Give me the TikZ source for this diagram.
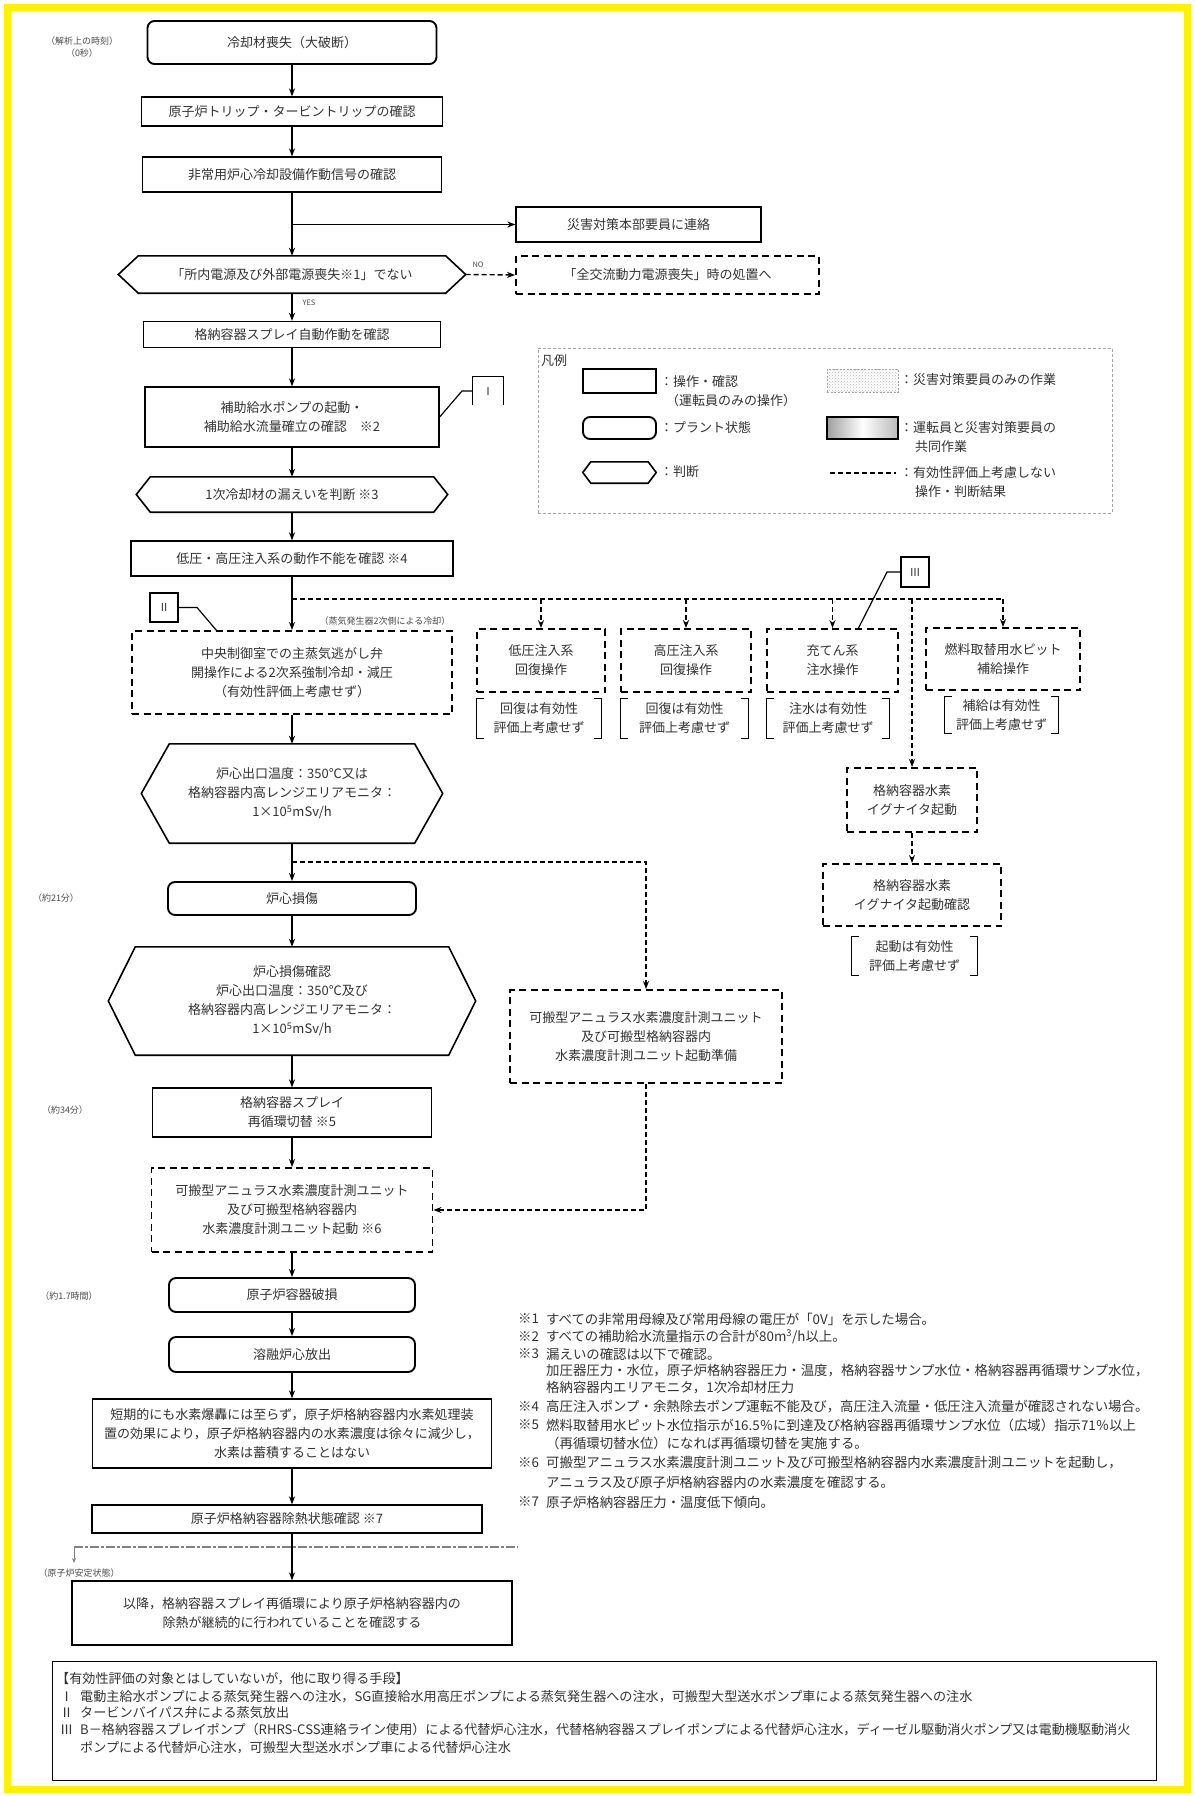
\documentclass[tikz,border=0pt]{standalone}
\usepackage{fontspec}
\setmainfont{Noto Sans CJK JP}
\usetikzlibrary{arrows.meta,patterns}
\newcommand\fsM{\fontsize{13}{19}\selectfont}
\newcommand\fsN{\fontsize{13.4}{18}\selectfont}
\newcommand\fsB{\fontsize{13.1}{17}\selectfont}
\newcommand\fsS{\fontsize{9}{11}\selectfont}
\newcommand\fsT{\fontsize{9}{12}\selectfont}
\newcommand\hexshape[3]{\draw[line width=#3] ([xshift=#2]#1.north west) -- ([xshift=-#2]#1.north east) -- (#1.east) -- ([xshift=-#2]#1.south east) -- ([xshift=#2]#1.south west) -- (#1.west) -- cycle;}
\newcommand\brkshape[1]{\draw[line width=1pt] ([xshift=7pt]#1.north west) -- (#1.north west) -- (#1.south west) -- ([xshift=7pt]#1.south west);
\draw[line width=1pt] ([xshift=-7pt]#1.north east) -- (#1.north east) -- (#1.south east) -- ([xshift=-7pt]#1.south east);}
\tikzset{
 wh/.style 2 args={minimum width=#1pt, minimum height=#2pt},
 box/.style={draw, line width=1.3pt, align=center, inner sep=0pt, font=\fsM, text=black!80},
 pbox/.style={box, rounded corners=7pt, line width=1.9pt},
 dbox/.style={box, line width=1.9pt, dash pattern=on 7pt off 4.5pt},
 hexn/.style={align=center, inner sep=0pt, font=\fsM, text=black!80},
 brk/.style={align=center, inner sep=0pt, font=\fsM, text=black!80},
 arr/.style={line width=1.3pt, -{Stealth[length=8pt,width=6pt]}},
 darr/.style={line width=1.4pt, dash pattern=on 5pt off 3pt, -{Stealth[length=8pt,width=6pt]}},
 dline/.style={line width=1.4pt, dash pattern=on 5pt off 3pt},
 lbl/.style={font=\fsT, text=black!70, align=center, inner sep=1pt},
 note/.style={font=\fsN, text=black!80, anchor=west, inner sep=0pt},
 btxt/.style={font=\fsB, text=black!80, anchor=west, inner sep=0pt},
 ltxt/.style={font=\fsM, text=black!80, anchor=west, inner sep=0pt},
 rom/.style={inner sep=0pt, font=\fontsize{11}{12}\selectfont, text=black!80},
}
\begin{document}
\begin{tikzpicture}[x=1pt,y=-1pt]
\useasboundingbox (0,0) rectangle (1194,1796);
\fill[white] (0,0) rectangle (1194,1796);
\draw[yellow, line width=7pt] (7.5,7.5) rectangle (1187,1789);

% time labels
\node[lbl] (tl0) at (82,47.5) {（解析上の時刻）\\（0秒）};
\node[lbl] (tl1) at (56,898) {（約21分）};
\node[lbl] (tl2) at (65,1110) {（約34分）};
\node[lbl] (tl3) at (69,1296) {（約1.7時間）};

% main column
\node[pbox,wh={289}{43}] (n1) at (292,42.5) {冷却材喪失（大破断）};
\node[box,wh={301}{29}] (n2) at (292,111.5) {原子炉トリップ・タービントリップの確認};
\node[box,wh={299}{35}] (n3) at (292,174.5) {非常用炉心冷却設備作動信号の確認};
\node[box,wh={245}{35}] (n4) at (638.5,224.5) {災害対策本部要員に連絡};
\node[hexn,wh={347}{37}] (h1) at (292,274.5) {「所内電源及び外部電源喪失※1」でない};
\hexshape{h1}{20pt}{1.6pt}
\node[dbox,wh={303}{38}] (n5) at (667.5,275) {「全交流動力電源喪失」時の処置へ};
\node[box,wh={297}{26}] (n6) at (292,334.5) {格納容器スプレイ自動作動を確認};
\node[box,wh={294}{60}] (n7) at (292,417) {補助給水ポンプの起動・\\補助給水流量確立の確認　※2};
\node[hexn,wh={311}{35}] (h2) at (292,494.5) {1次冷却材の漏えいを判断 ※3};
\hexshape{h2}{14pt}{1.6pt}
\node[box,wh={322}{35}] (n8) at (292,558.5) {低圧・高圧注入系の動作不能を確認 ※4};
\node[dbox,wh={320}{83}] (n9) at (292,672.5) {中央制御室での主蒸気逃がし弁\\開操作による2次系強制冷却・減圧\\（有効性評価上考慮せず）};
\node[lbl,font=\fsS] (lsg) at (385,621) {（蒸気発生器2次側による冷却）};

% right branch row
\node[dbox,wh={128}{63}] (n10) at (541,660.5) {低圧注入系\\回復操作};
\node[dbox,wh={130}{63}] (n11) at (686,660.5) {高圧注入系\\回復操作};
\node[dbox,wh={131}{63}] (n12) at (832.5,660.5) {充てん系\\注水操作};
\node[dbox,wh={154}{62}] (n13) at (1003,659) {燃料取替用水ピット\\補給操作};
\node[brk,wh={124}{39}] (b10) at (539,718.5) {回復は有効性\\評価上考慮せず};
\node[brk,wh={127}{39}] (b11) at (684.5,718.5) {回復は有効性\\評価上考慮せず};
\node[brk,wh={122}{39}] (b12) at (828,718.5) {注水は有効性\\評価上考慮せず};
\node[brk,wh={113}{36}] (b13) at (1001.5,715) {補給は有効性\\評価上考慮せず};
\brkshape{b10}\brkshape{b11}\brkshape{b12}\brkshape{b13}
\node[dbox,wh={130}{64}] (n14) at (912,800) {格納容器水素\\イグナイタ起動};
\node[dbox,wh={178}{62}] (n15) at (912,895) {格納容器水素\\イグナイタ起動確認};
\node[brk,wh={125}{38}] (b15) at (914.5,956) {起動は有効性\\評価上考慮せず};
\brkshape{b15}

% lower main column
\node[hexn,wh={301}{99}] (h3) at (292,793.5) {炉心出口温度：350℃又は\\格納容器内高レンジエリアモニタ：\\1×10\textsuperscript{5}mSv/h};
\hexshape{h3}{28pt}{1.6pt}
\node[pbox,wh={248}{33}] (n16) at (292,898.5) {炉心損傷};
\node[hexn,wh={367}{108}] (h4) at (292,1001) {炉心損傷確認\\炉心出口温度：350℃及び\\格納容器内高レンジエリアモニタ：\\1×10\textsuperscript{5}mSv/h};
\hexshape{h4}{27pt}{1.6pt}
\node[dbox,wh={272}{93}] (n17) at (646,1036.5) {可搬型アニュラス水素濃度計測ユニット\\及び可搬型格納容器内\\水素濃度計測ユニット起動準備};
\node[box,wh={279}{49}] (n18) at (292,1112.5) {格納容器スプレイ\\再循環切替 ※5};
\node[dbox,wh={281}{84}] (n19) at (292,1210) {可搬型アニュラス水素濃度計測ユニット\\及び可搬型格納容器内\\水素濃度計測ユニット起動 ※6};
\node[pbox,wh={246}{34}] (n20) at (292,1295) {原子炉容器破損};
\node[pbox,wh={246}{35}] (n21) at (292,1354.5) {溶融炉心放出};
\node[box,wh={399}{69}] (n22) at (292,1433.5) {短期的にも水素爆轟には至らず，原子炉格納容器内水素処理装\\置の効果により，原子炉格納容器内の水素濃度は徐々に減少し，\\水素は蓄積することはない};
\node[box,wh={390}{28}] (n23) at (287,1519) {原子炉格納容器除熱状態確認 ※7};
\node[box,wh={440}{64}] (n24) at (292,1613) {以降，格納容器スプレイ再循環により原子炉格納容器内の\\除熱が継続的に行われていることを確認する};

% roman markers
\node[rom,wh={30}{28}] (rI) at (488,391) {Ⅰ};
\draw[line width=1.2pt] (rI.south west) -- (rI.north west) -- (rI.north east) -- (rI.south east);
\coordinate (lI) at (462,391);
\draw[line width=1.2pt] (n7.east) -- (lI) -- (rI.west);
\node[rom,draw,line width=1.2pt,wh={28}{29}] (rII) at (164,607.5) {Ⅱ};
\coordinate (lII) at (197,607.5);
\coordinate (lII2) at (217,631);
\draw[line width=1.2pt] (rII.east) -- (lII) -- (lII2);
\node[rom,draw,line width=1.2pt,wh={28}{30}] (rIII) at (915,572) {Ⅲ};
\coordinate (lIII1) at (858,629);
\coordinate (lIII2) at (887,572);
\draw[line width=1.2pt] (lIII1) -- (lIII2) -- (rIII.west);

% connectors
\draw[arr] (n1) -- (n2);
\draw[arr] (n2) -- (n3);
\draw[arr] (n3) -- (h1);
\coordinate (b1) at (292,224.5);
\draw[arr] (b1) -- (n4.west);
\draw[darr] (h1.east) -- (n5.west);
\node[lbl,font=\fontsize{7.5}{8}\selectfont] (lno) at (478,265) {NO};
\draw[arr] (h1) -- (n6);
\node[lbl,font=\fontsize{7.5}{8}\selectfont] (lyes) at (309,303) {YES};
\draw[arr] (n6) -- (n7);
\draw[arr] (n7) -- (h2);
\draw[arr] (h2) -- (n8);
\draw[arr] (n8) -- (n9);
\coordinate (j1) at (292,599);
\draw[dline] (j1) -- (n13.north |- j1);
\draw[darr] (n10.north |- j1) -- (n10.north);
\draw[darr] (n11.north |- j1) -- (n11.north);
\draw[darr] (n12.north |- j1) -- (n12.north);
\draw[darr] (n13.north |- j1) -- (n13.north);
\draw[darr] (n14.north |- j1) -- (n14.north);
\draw[darr] (n14) -- (n15);
\draw[arr] (n9) -- (h3);
\draw[arr] (h3) -- (n16);
\coordinate (j2) at (292,862);
\draw[darr] (j2) -| (n17.north);
\draw[arr] (n16) -- (h4);
\draw[arr] (h4) -- (n18);
\draw[arr] (n18) -- (n19);
\draw[darr] (n17.south) |- (n19.east);
\draw[arr] (n19) -- (n20);
\draw[arr] (n20) -- (n21);
\draw[arr] (n21) -- (n22);
\draw[arr] (n22.south) -- (n22.south |- n23.north);
\draw[arr] (n22.south |- n23.south) -- (n24.north);

% stable state line
\coordinate (s1) at (74,1547);
\coordinate (s2) at (518,1547);
\coordinate (s3) at (74,1563);
\draw[gray, line width=1.2pt, dash pattern=on 9pt off 2pt on 3pt off 2pt] (s1) -- (s2);
\draw[gray, line width=0.8pt, -{Stealth[length=5pt,width=4pt]}] (s1) -- (s3);
\node[lbl] (tl4) at (79,1573) {（原子炉安定状態）};

% legend
\node[draw=gray!70, line width=0.8pt, dash pattern=on 3pt off 2pt, wh={574}{165}] (lg) at (825,430.5) {};
\node[ltxt] (lgt) at (541,361) {凡例};
\node[box, line width=1.2pt, wh={73}{24}] (lg1) at (619.5,381) {};
\node[ltxt] (lg1a) at (660,382) {：操作・確認};
\node[ltxt] (lg1b) at (666,401) {（運転員のみの操作）};
\node[pbox, wh={73}{22}] (lg2) at (619.5,428) {};
\node[ltxt] (lg2a) at (660,428) {：プラント状態};
\node[hexn, wh={73}{21}] (lg3) at (619.5,472.5) {};
\hexshape{lg3}{8pt}{1.6pt}
\node[ltxt] (lg3a) at (660,472) {：判断};
\node[draw=gray!70, line width=0.8pt, dash pattern=on 2pt off 1.5pt, pattern=crosshatch dots, pattern color=gray!55, wh={71}{23}] (lg4) at (862.5,380.5) {};
\node[ltxt] (lg4a) at (900,380) {：災害対策要員のみの作業};
\node[draw, line width=1.2pt, left color=gray!75, right color=gray!55, middle color=white, wh={71}{22}] (lg5) at (862.5,428) {};
\node[ltxt] (lg5a) at (900,428) {：運転員と災害対策要員の};
\node[ltxt] (lg5b) at (915,447) {共同作業};
\coordinate (lg6s) at (830,473);
\coordinate (lg6e) at (896,473);
\draw[line width=1.8pt, dash pattern=on 5pt off 3pt] (lg6s) -- (lg6e);
\node[ltxt] (lg6a) at (900,473) {：有効性評価上考慮しない};
\node[ltxt] (lg6b) at (915,492) {操作・判断結果};

% notes
\node[note] (m1) at (518,1319) {※1};
\node[note] (t1) at (546,1319) {すべての非常用母線及び常用母線の電圧が「0V」を示した場合。};
\node[note] (m2) at (518,1337) {※2};
\node[note] (t2) at (546,1337) {すべての補助給水流量指示の合計が80m\textsuperscript{3}/h以上。};
\node[note] (m3) at (518,1354) {※3};
\node[note] (t3) at (546,1354) {漏えいの確認は以下で確認。};
\node[note] (t3b) at (546,1371) {加圧器圧力・水位，原子炉格納容器圧力・温度，格納容器サンプ水位・格納容器再循環サンプ水位，};
\node[note] (t3c) at (546,1388) {格納容器内エリアモニタ，1次冷却材圧力};
\node[note] (m4) at (518,1407) {※4};
\node[note] (t4) at (546,1407) {高圧注入ポンプ・余熱除去ポンプ運転不能及び，高圧注入流量・低圧注入流量が確認されない場合。};
\node[note] (m5) at (518,1425) {※5};
\node[note] (t5) at (546,1425) {燃料取替用水ピット水位指示が16.5％に到達及び格納容器再循環サンプ水位（広域）指示71％以上};
\node[note] (t5b) at (546,1443) {（再循環切替水位）になれば再循環切替を実施する。};
\node[note] (m6) at (518,1463) {※6};
\node[note] (t6) at (546,1463) {可搬型アニュラス水素濃度計測ユニット及び可搬型格納容器内水素濃度計測ユニットを起動し，};
\node[note] (t6b) at (546,1482) {アニュラス及び原子炉格納容器内の水素濃度を確認する。};
\node[note] (m7) at (518,1502) {※7};
\node[note] (t7) at (546,1502) {原子炉格納容器圧力・温度低下傾向。};

% bottom box
\node[draw, line width=1pt, wh={1104}{119}] (bb) at (604,1720.5) {};
\node[btxt] (bt0) at (56,1679) {【有効性評価の対象とはしていないが，他に取り得る手段】};
\node[btxt] (bt1a) at (60,1697) {Ⅰ};
\node[btxt] (bt1) at (80,1697) {電動主給水ポンプによる蒸気発生器への注水，SG直接給水用高圧ポンプによる蒸気発生器への注水，可搬型大型送水ポンプ車による蒸気発生器への注水};
\node[btxt] (bt2a) at (60,1713) {Ⅱ};
\node[btxt] (bt2) at (80,1713) {タービンバイパス弁による蒸気放出};
\node[btxt] (bt3a) at (60,1730) {Ⅲ};
\node[btxt] (bt3) at (80,1730) {B－格納容器スプレイポンプ（RHRS-CSS連絡ライン使用）による代替炉心注水，代替格納容器スプレイポンプによる代替炉心注水，ディーゼル駆動消火ポンプ又は電動機駆動消火};
\node[btxt] (bt4) at (80,1748) {ポンプによる代替炉心注水，可搬型大型送水ポンプ車による代替炉心注水};
\end{tikzpicture}
\end{document}
